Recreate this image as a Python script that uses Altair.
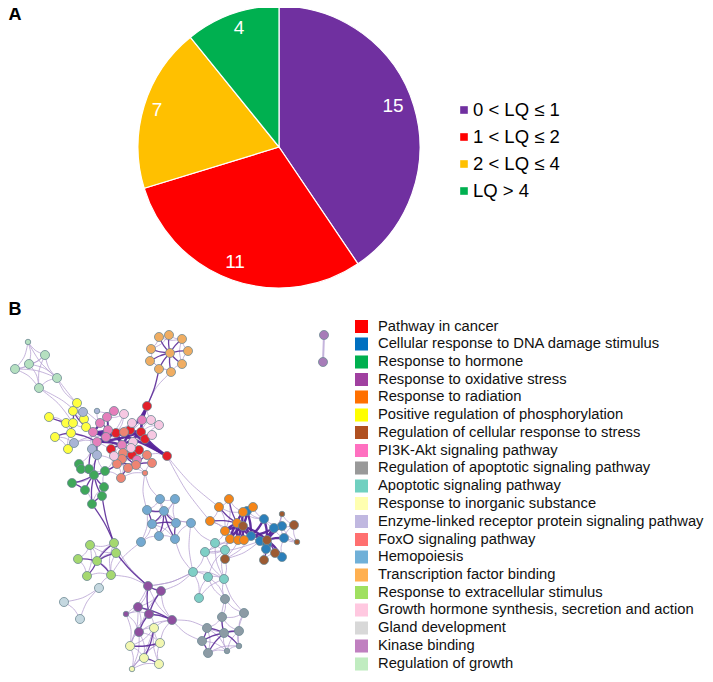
import altair as alt
import pandas as pd

# ---- panel A data
pie_labels = ["0 < LQ ≤ 1", "1 < LQ ≤ 2", "2 < LQ ≤ 4", "LQ > 4"]
pie_values = [15, 11, 7, 4]
pie_colors = ["#7030a0", "#ff0000", "#ffc000", "#00b050"]
pie_text_x = [393, 235, 157, 239]
pie_text_y = [106, 262, 110, 28]
pie_legend_y = [110, 137, 164, 191]

# ---- panel B legend
terms = ["Pathway in cancer", "Cellular response to DNA damage stimulus", "Response to hormone",
         "Response to oxidative stress", "Response to radiation", "Positive regulation of phosphorylation",
         "Regulation of cellular response to stress", "PI3K-Akt signaling pathway",
         "Regulation of apoptotic signaling pathway", "Apoptotic signaling pathway",
         "Response to inorganic substance", "Enzyme-linked receptor protein signaling pathway",
         "FoxO signaling pathway", "Hemopoiesis", "Transcription factor binding",
         "Response to extracellular stimulus", "Growth hormone synthesis, secretion and action",
         "Gland development", "Kinase binding", "Regulation of growth"]
term_colors = ["#ff0000", "#0070c0", "#00b04f", "#a040a0", "#ff7000", "#ffff00", "#b05020", "#ff70c0",
               "#999999", "#70d0c0", "#ffffb0", "#c0b8e0", "#ff7070", "#70b0d8", "#ffb050", "#a0e060",
               "#ffc8e0", "#d8d8d8", "#c080c0", "#c0ecc0"]
term_y = [326.5, 344, 362, 379.5, 397, 415, 432.5, 450.5, 468, 486, 503.5, 521.5, 539.5, 557, 575,
          592.5, 610, 628, 646, 664]

# ---- network nodes: group -> x, y, colour
R_x = [147, 116, 130, 141, 145, 111, 139, 132, 167]
R_y = [406, 433, 430, 432, 439, 449, 450, 455, 456]
B_x = [247, 264, 282, 274, 251, 284, 260, 267, 266, 282]
B_y = [511, 519, 526, 528, 536, 538, 541, 544, 549, 557]
G_x = [79, 81, 89, 105, 94, 72, 104, 85, 102, 92]
G_y = [464, 469, 469, 471, 475, 483, 487, 490, 496, 504]
P_x = [148, 161, 138, 126, 149, 172, 139]
P_y = [586, 591, 607, 614, 614, 620, 632]
O_x = [229, 219, 253, 243, 210, 237, 225, 230, 238, 244]
O_y = [499, 507, 507, 512, 521, 523, 531, 539, 540, 540]
Y_x = [77, 73, 49, 84, 66, 73, 86, 71, 55, 68]
Y_y = [403, 411, 417, 419, 423, 423, 427, 433, 437, 449]
W_x = [282, 294, 243, 267, 297, 275, 264, 225]
W_y = [514, 525, 526, 540, 542, 553, 560, 559]
K_x = [114, 107, 100, 108, 93, 106, 97, 122, 142, 137]
K_y = [411, 417, 423, 430, 432, 437, 442, 445, 420, 460]
S_x = [225, 222, 244, 207, 224, 239, 202, 239, 227, 208]
S_y = [599, 617, 613, 628, 633, 631, 641, 646, 651, 653]
A_x = [215, 205, 225, 193, 208, 224, 199]
A_y = [543, 552, 550, 572, 577, 579, 598]
I_x = [154, 160, 130, 144, 159, 132]
I_y = [628, 643, 646, 658, 664, 669]
E_x = [83, 74, 92, 97, 97]
E_y = [412, 443, 449, 455, 411]
F_x = [124, 123, 122, 147, 117, 136, 152, 128, 145, 121]
F_y = [432, 453, 459, 455, 464, 465, 463, 468, 473, 478]
H_x = [160, 175, 147, 164, 152, 176, 191, 159, 175, 141]
H_y = [499, 499, 510, 511, 524, 523, 523, 536, 539, 542]
T_x = [159, 169, 182, 188, 182, 171, 159, 150, 151, 170]
T_y = [337, 335, 339, 351, 364, 372, 369, 361, 349, 353]
X_x = [114, 90, 116, 78, 97, 87, 111]
X_y = [543, 545, 553, 559, 561, 576, 575]
L_x = [124, 132, 151, 159, 152, 133, 131, 114]
L_y = [414, 423, 420, 425, 435, 442, 448, 456]
D_x = [99, 64, 80]
D_y = [588, 602, 619]
N_x = [324, 323]
N_y = [335, 362]
Z_x = [28, 45, 29, 15, 57, 39]
Z_y = [342, 355, 364, 369, 378, 388]

groups = {
    "R": (R_x, R_y, "#e3202a"), "B": (B_x, B_y, "#2b7fba"), "G": (G_x, G_y, "#3fa75a"),
    "P": (P_x, P_y, "#8e4f9f"), "O": (O_x, O_y, "#f58518"), "Y": (Y_x, Y_y, "#ffff40"),
    "W": (W_x, W_y, "#9c5a32"), "K": (K_x, K_y, "#e57fbb"), "S": (S_x, S_y, "#8c9ba5"),
    "A": (A_x, A_y, "#7fcfc6"), "I": (I_x, I_y, "#f2f7b0"), "E": (E_x, E_y, "#a9b4d6"),
    "F": (F_x, F_y, "#ee8473"), "H": (H_x, H_y, "#74a9d1"), "T": (T_x, T_y, "#f0ad62"),
    "X": (X_x, X_y, "#a5d86f"), "L": (L_x, L_y, "#f6c8e2"), "D": (D_x, D_y, "#c5d8e0"),
    "N": (N_x, N_y, "#a77cb8"), "Z": (Z_x, Z_y, "#b5e0c0"),
}
small_nodes = ["Z0", "E4", "F8", "P3", "I5", "W0", "W4", "S7", "S8"]

heavy_edges = """R0-R2 R0-R3 R1-R2 R2-R3 R3-R4 R1-R8 R2-R8 R4-R8 R3-R8 R3-K6 R1-K4 R1-K5 R2-K3 R1-K7 R2-K7 R3-K7
K3-K4 K4-K5 K5-K6 K3-R1 K5-R1 K7-R1 K2-K4 K6-K7 Y6-K4 Y3-K4 Y6-K5 E2-K6 E3-K6
O5-W2 O3-W2 O6-W2 O7-W2 O8-W2 O9-W2 O5-O6 O5-O7 O5-O8 O3-O5 W2-B4 O5-B4 O9-B4
W2-W3 W2-B0 B4-W3 B1-W3 B2-W3 B3-W3 B5-W3 B6-W3 B7-W3 B8-W3 B9-W3 B0-B4 B1-B4 B3-B4""".split()

mid_edges = """T9-T0 T9-T1 T9-T2 T9-T3 T9-T4 T9-T5 T9-T6 T9-T7 T9-T8 T6-R0 R0-K8
R1-F0 R5-K7 R6-F1 R7-F2 R2-L1 K0-K2 K1-K3 K2-K3 K1-K5 K8-R3 K9-R7
Y1-Y6 Y0-Y5 Y5-Y7 Y2-Y5 Y8-Y7 Y7-K6
G0-G4 G1-G4 G2-G4 G3-G4 G4-G5 G4-G6 G4-G7 G4-G8 G4-G9 G5-G7 G8-G9 E2-G2 E3-G4 G9-X0 G8-X0
F4-F5 F1-F5 F2-F4 F5-F3 F5-F6 F5-F7 F7-F9 F4-G3
H3-H4 H3-H2 H3-H5 H3-H7 H4-H5 H5-H8 H3-H8 H2-H4
O1-O5 O0-O5 O4-O5 O5-O9 O2-W2 W3-W5 W3-W6 B3-B6
P0-P4 P0-P1 P4-P6 P1-P4 P2-P5 P4-P5 X2-P0
S4-S3 S4-S6 S4-S7 S4-S9 S3-S6 S6-S9 S1-S4 S4-S5
I0-I3 I1-I2 I3-I4 X0-X4 X3-X4 X4-X2 X4-X5 X4-X6""".split()

light_edges = """T0-T1 T1-T2 T2-T3 T3-T4 T4-T5 T5-T6 T6-T7 T7-T8 T8-T0 T0-T2 T6-T5 T7-T6 T8-T1 T4-T2 T5-R0
Z0-Z1 Z0-Z2 Z0-Z3 Z0-Z4 Z1-Z2 Z1-Z3 Z1-Z4 Z2-Z3 Z2-Z4 Z3-Z4 Z3-Z5 Z2-Z5 Z4-Z5 Z1-Z5 Z4-K2 Z4-Y0 Z5-Y5 Z5-Y3
Y0-Y1 Y0-Y3 Y1-Y3 Y2-Y4 Y2-Y7 Y3-Y6 Y4-Y7 Y5-Y6 Y7-Y9 Y8-Y9 Y8-E1 E1-Y9 E0-Y1 E0-K4 E1-K5 E1-K6 E4-K0 E4-K2 E2-K4
K0-K1 K1-L0 L0-K5 L1-K3 L0-R1 L2-R3 L3-R3 L4-R3 L2-R0 L3-R4 L4-R4 L2-L3 L1-L2 L5-R5 L5-K8 L6-R5 L6-R7 L7-R5 L7-K6 L7-F1 L7-G3 L7-F4 L5-F1 K7-L5 K7-L6 K7-L7 R3-L5 R2-K8 R0-L1 R4-L5
F0-K5 F0-R3 F1-F2 F1-F3 F2-F5 F3-F6 F4-F7 F7-F8 F5-F8 F8-F9 F6-F8 R8-F3 R6-F3 R7-F5 F2-F9 F4-F9 F9-G3 F4-G4 F2-G3 F8-H2 F8-H0 F6-F5
G0-G1 G0-G2 G1-G2 G2-G3 G3-G4 G3-G6 G5-G4 G6-G8 G7-G9 G6-G9 G0-E2 G2-E3 G3-E3 E3-F4
X0-X1 X0-X2 X0-X4 X1-X3 X1-X4 X1-X5 X2-X4 X3-X5 X5-X6 X4-X6 X2-X6 X1-X2 X0-X6 X6-H9 X0-P0 X6-P0 X6-D0 D0-D1 D1-D2 D0-D2
H0-H1 H0-H2 H0-H3 H1-H3 H1-H5 H1-H4 H2-H3 H0-H5 H4-H7 H4-H9 H7-H8 H7-H9 H5-H6 H6-H8 H5-H7 H3-H6 H9-H2 H8-H4 H8-A3 H6-A0 H6-A3
A0-A1 A0-A2 A1-A2 A1-A3 A1-A5 A2-A4 A2-A5 A3-A4 A3-A5 A4-A5 A3-A6 A4-A6 A6-A5 A0-A5 A3-P0 A3-P1 A0-O6 A2-O7 A2-W7 W7-A5 A2-W2 W7-B4 W7-B6 A1-W2 A0-B4 A1-B6 W7-W2 A5-S0 A5-S2 A4-S0
O0-O1 O1-O4 O0-O3 O2-O3 O4-O6 O6-O7 O7-O8 O8-O9 O1-O3 O4-O8 O6-O9 R8-O1 R8-O4 O2-B1 O9-B6 O3-B1 O0-O6 O1-O6
B1-B2 B1-B3 B2-B3 B2-B5 B3-B5 B5-B9 B7-B8 W0-W1 W0-B2 W0-B3 W1-B2 W1-W4 W1-B5 W4-B5 W4-B2 W0-W3 W4-W3 B8-B9 B8-W6 W6-W5 W5-B9 B0-B1 B6-B8 B6-W2
P0-P2 P0-P3 P0-P5 P1-P2 P1-P5 P2-P3 P2-P6 P3-P4 P3-P6 P5-P6 P1-P6 P6-I0 P6-I1 P6-I2 P6-I3 P4-I0 P4-I2 P2-I2 P3-I2 P5-I0 P5-I1 P5-S3 P5-S6 P6-I5 P0-A3
I0-I1 I0-I2 I0-I4 I1-I3 I1-I4 I2-I3 I2-I5 I3-I5 I4-I5 I1-I5 I0-I5
S0-S1 S0-S2 S0-S4 S1-S2 S1-S3 S1-S5 S2-S5 S3-S9 S4-S8 S5-S7 S5-S8 S7-S8 S8-S9 S6-S8 S3-S8 S2-S7 S9-S7 S3-S5 S0-A4""".split()

pair_edges = ["N0-N1"]


def pos(node):
    xs, ys, _ = groups[node[0]]
    i = int(node[1:])
    return xs[i], ys[i]


def centre(node):
    xs, ys, _ = groups[node[0]]
    return sum(xs) / len(xs), sum(ys) / len(ys)


def edge_table(edges, bow=0.10):
    """Each edge is a short curve: both ends plus a slight bend towards its group's middle."""
    rows = []
    for n, e in enumerate(edges):
        a, b = e.split("-")
        ax, ay = pos(a)
        bx, by = pos(b)
        cx, cy = centre(a)
        mx, my = (ax + bx) / 2, (ay + by) / 2
        px, py = -(by - ay), bx - ax
        length = max((px ** 2 + py ** 2) ** 0.5, 1)
        k = bow * min(1, 30 / length)          # long edges stay nearly straight
        side = 1 if (cx - mx) * px + (cy - my) * py > 0 else -1
        rows.append({"id": n, "s": 0, "x": ax, "y": ay})
        rows.append({"id": n, "s": 1, "x": mx + side * k * px, "y": my + side * k * py})
        rows.append({"id": n, "s": 2, "x": bx, "y": by})
    return pd.DataFrame(rows)


node_rows = []
for g, (xs, ys, c) in groups.items():
    for i, (x, y) in enumerate(zip(xs, ys)):
        node_rows.append({"x": x, "y": y, "c": c, "small": f"{g}{i}" in small_nodes})
nodes = pd.DataFrame(node_rows)

XS = alt.Scale(domain=[8, 705], nice=False, zero=False)
YS = alt.Scale(domain=[674, 8], nice=False, zero=False)
X = alt.X("x:Q", scale=XS, axis=None)
Y = alt.Y("y:Q", scale=YS, axis=None)
FONT = "Liberation Sans"

pie_df = pd.DataFrame({"label": pie_labels, "value": pie_values, "order": range(4)})
pie = alt.Chart(pie_df).mark_arc(outerRadius=141, stroke="white", strokeWidth=1.2).encode(
    theta=alt.Theta("value:Q", stack=True),
    order=alt.Order("order:O"),
    color=alt.Color("label:N", scale=alt.Scale(domain=pie_labels, range=pie_colors), legend=None),
    x=alt.value(271), y=alt.value(139),
)
pie_text = alt.Chart(pd.DataFrame({"x": pie_text_x, "y": pie_text_y, "t": pie_values})).mark_text(
    color="white", fontSize=19, font=FONT).encode(x=X, y=Y, text="t:N")

pl = pd.DataFrame({"x": [473] * 4, "sx": [464] * 4, "y": pie_legend_y, "t": pie_labels, "c": pie_colors})
pl_sq = alt.Chart(pl).mark_square(size=58, opacity=1).encode(
    x=alt.X("sx:Q", scale=XS, axis=None), y=Y, color=alt.Color("c:N", scale=None))
pl_tx = alt.Chart(pl).mark_text(align="left", fontSize=18.5, font=FONT, color="black").encode(x=X, y=Y, text="t:N")

tl = pd.DataFrame({"x": [378] * 20, "sx": [361.5] * 20, "y": term_y, "t": terms, "c": term_colors})
tl_sq = alt.Chart(tl).mark_square(size=170, opacity=1).encode(
    x=alt.X("sx:Q", scale=XS, axis=None), y=Y, color=alt.Color("c:N", scale=None))
tl_tx = alt.Chart(tl).mark_text(align="left", fontSize=14.75, font=FONT, color="#111111").encode(x=X, y=Y, text="t:N")

panels = pd.DataFrame({"x": [8.5, 8.5], "y": [15, 310], "t": ["A", "B"]})
panel_tx = alt.Chart(panels).mark_text(align="left", fontSize=18, fontWeight="bold", font=FONT, color="black").encode(
    x=X, y=Y, text="t:N")


def edge_layer(edges, color, width, opacity, bow=0.10):
    return alt.Chart(edge_table(edges, bow)).mark_line(
        color=color, strokeWidth=width, opacity=opacity, interpolate="cardinal"
    ).encode(x=X, y=Y, detail="id:N", order="s:O")


e_pair = edge_layer(pair_edges, "#c4b4dc", 2, 1, 0)
e_light = edge_layer(light_edges, "#b39dd0", 0.9, 0.85)
e_mid = edge_layer(mid_edges, "#5b2a98", 1.3, 0.9, 0.05)
e_heavy = edge_layer(heavy_edges, "#57259a", 2.4, 0.95, 0.05)

n_big = alt.Chart(nodes[~nodes.small]).mark_circle(size=82, opacity=1, stroke="#6f8a94", strokeWidth=0.8).encode(
    x=X, y=Y, color=alt.Color("c:N", scale=None))
n_small = alt.Chart(nodes[nodes.small]).mark_circle(size=30, opacity=1, stroke="#6f8a94", strokeWidth=0.8).encode(
    x=X, y=Y, color=alt.Color("c:N", scale=None))

chart = alt.layer(
    pie, pie_text, pl_sq, pl_tx, tl_sq, tl_tx, panel_tx, e_pair, e_light, e_mid, e_heavy, n_big, n_small
).resolve_scale(color="independent").properties(
    width=697, height=666, padding=0, autosize=alt.AutoSizeParams(type="none")
).configure_view(stroke=None)

chart.save("out.html", embed_options={"renderer": "svg", "actions": False})
